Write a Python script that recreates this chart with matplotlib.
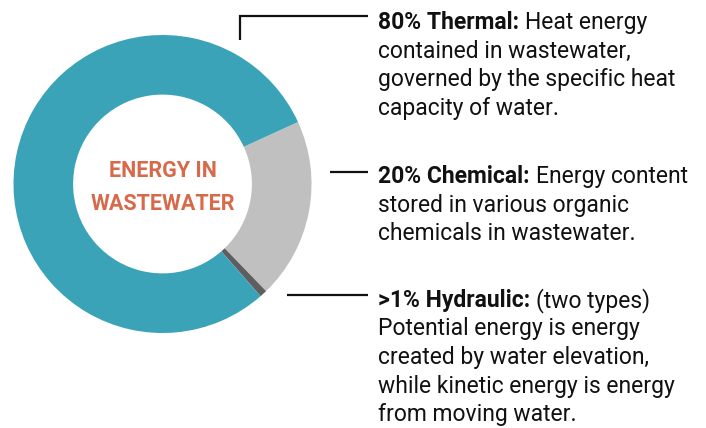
import matplotlib
matplotlib.use("Agg")
import matplotlib.pyplot as plt

# shares (clockwise from the teal/grey edge)
sources = ["Chemical", "Hydraulic", "Thermal"]
shares = [19.6, 0.8, 79.6]
colors = ["#c0c0c0", "#5e5e5e", "#3aa3b8"]

center_lines = ["ENERGY IN", "WASTEWATER"]

heads = ["80% Thermal:", "20% Chemical:", ">1% Hydraulic:"]
first_rest = ["Heat energy", "Energy content", "(two types)"]
more_lines = [
    ["contained in wastewater,", "governed by the specific heat",
     "capacity of water."],
    ["stored in various organic", "chemicals in wastewater."],
    ["Potential energy is energy", "created by water elevation,",
     "while kinetic energy is energy", "from moving water."],
]

W, H = 706, 428
fig = plt.figure(figsize=(W / 100, H / 100), dpi=100)

# pixel overlay for leader lines and text
ov = fig.add_axes([0, 0, 1, 1])
ov.set_xlim(0, W)
ov.set_ylim(H, 0)
ov.axis("off")

cx, cy, r = 162.5, 184, 149
pie_ax = fig.add_axes([(cx - r) / W, (H - cy - r) / H, 2 * r / W, 2 * r / H])
pie_ax.pie(shares, colors=colors, startangle=24.6, counterclock=False,
           radius=1, wedgeprops=dict(width=0.4, linewidth=0))
pie_ax.set_xlim(-1, 1)
pie_ax.set_ylim(-1, 1)

for i, t in enumerate(center_lines):
    pie_ax.text(0, 0.09 - i * 0.222, t, ha="center", va="center",
                fontsize=15.5, fontweight="bold", color="#d76a4a",
                family="Roboto")

lc = "#111111"
ov.plot([240, 240, 368], [40, 16, 16], color=lc, lw=1.6,
        solid_capstyle="butt", solid_joinstyle="miter")
ov.plot([330, 368], [172, 172], color=lc, lw=1.6, solid_capstyle="butt")
ov.plot([287, 368], [295, 295], color=lc, lw=1.6, solid_capstyle="butt")

tx = 378
first_base = [29, 183, 307]
step = 28.5
fs = 16.5
renderer = fig.canvas.get_renderer()
inv = ov.transData.inverted()
for k in range(3):
    y0 = first_base[k]
    hd = ov.text(tx, y0, heads[k], fontsize=fs, fontweight="bold",
                 color=lc, va="baseline", family="Roboto")
    bb = hd.get_window_extent(renderer)
    x_end = inv.transform((bb.x1, bb.y0))[0]
    ov.text(x_end + 6, y0, first_rest[k], fontsize=fs, color=lc,
            va="baseline", family="Roboto")
    for j, line in enumerate(more_lines[k]):
        ov.text(tx, y0 + (j + 1) * step, line, fontsize=fs, color=lc,
                va="baseline", family="Roboto")

fig.savefig("out.png", dpi=100)
